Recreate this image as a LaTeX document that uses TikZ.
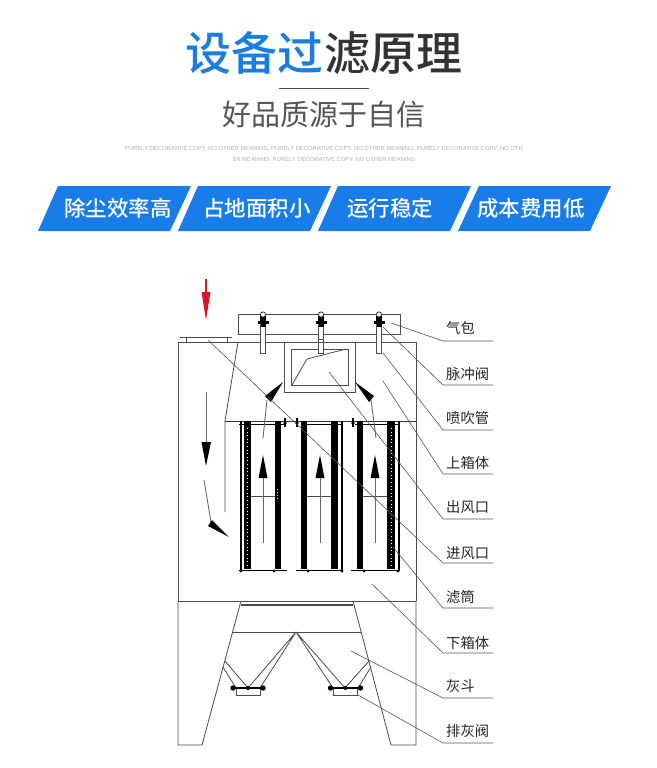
\documentclass[tikz,border=0pt]{standalone}
\usepackage{fontspec}
\setmainfont{Liberation Sans}
\newfontfamily\cjk{Noto Sans CJK SC}
\newfontfamily\cjkmed{Noto Sans CJK SC Medium}
\usetikzlibrary{arrows.meta,positioning,calc}
\definecolor{TitleBlue}{RGB}{25,125,225}
\definecolor{TitleDark}{RGB}{50,50,55}
\definecolor{SubGray}{RGB}{85,85,85}
\definecolor{BannerBlue}{RGB}{24,125,232}
\definecolor{InletRed}{RGB}{220,20,40}
\definecolor{LeaderGray}{RGB}{85,85,85}
\tikzset{
  titletext/.style={inner sep=0pt, font=\cjkmed\fontsize{46}{46}\selectfont},
  bannerbox/.style={fill=BannerBlue, draw=none},
  bannertext/.style={text=white, font=\cjkmed\fontsize{21.5}{22}\selectfont, inner sep=0pt},
  fillertext/.style={inner sep=0pt, font=\fontsize{5.85}{6}\selectfont, text=black!30},
  partlabel/.style={font=\cjk\fontsize{14.3}{15}\selectfont, text=black!85, inner sep=0pt, anchor=west},
  leader/.style={draw=LeaderGray, line width=0.6pt},
  housing/.style={draw=black!70, line width=0.8pt},
  flowarrow/.style={draw=black!60, line width=0.9pt},
  flowhead/.style={fill=black, draw=none}
}
\begin{document}
\begin{tikzpicture}[x=1pt,y=-1pt]
\useasboundingbox (0,0) rectangle (656,768);
\fill[white] (0,0) rectangle (656,768);

% heading
\node[titletext,anchor=east,text=TitleBlue] (titleblue) at (324,53) {设备过};
\node[titletext,anchor=west,text=TitleDark] (titledark) at (324,53) {滤原理};
\node[inner sep=0pt,font=\cjk\fontsize{29}{29}\selectfont,text=SubGray] (subtitle) at (324,114) {好品质源于自信};
\coordinate (ruleleft) at (279,88);
\coordinate (ruleright) at (369,88);
\draw[black!70,line width=0.8pt] (ruleleft) -- (ruleright);
\node[fillertext] (filler1) at (324,149) {PURELY DECORATIVE COPY, NO OTHER MEANING, PURELY DECORATIVE COPY, NO OTHER MEANING, PURELY DECORATIVE COPY, NO OTH};
\node[fillertext] (filler2) at (324,160) {ER MEANING, PURELY DECORATIVE COPY, NO OTHER MEANING};

% banner
\fill[bannerbox] (58,186) -- (191,186) -- (170,231) -- (38,231) -- cycle;
\fill[bannerbox] (198,186) -- (331,186) -- (310,231) -- (178,231) -- cycle;
\fill[bannerbox] (338,186) -- (471,186) -- (450,231) -- (318,231) -- cycle;
\fill[bannerbox] (479,186) -- (611,186) -- (590,231) -- (458,231) -- cycle;
\node[bannertext] (feat1) at (118,208) {除尘效率高};
\node[bannertext] (feat2) at (257,208) {占地面积小};
\node[bannertext] (feat3) at (390,208) {运行稳定};
\node[bannertext] (feat4) at (531,208) {成本费用低};

% housing
\draw[housing] (178,601) -- (178,342) -- (416,342) -- (416,601);
\draw[housing] (238,314) rectangle (400,334);
\draw[housing] (180,337) -- (232,337);
\draw[housing] (186,337) -- (186,342) (227,337) -- (227,342);
\draw[housing] (238,342) -- (225,421) -- (225,512);
\draw[black!80,line width=0.9pt] (225,421) -- (416,421);
\draw[housing] (284,342) -- (284,392) -- (355,392) -- (355,342);
\draw[housing] (291,349) rectangle (348,385);
\draw[housing] (292,385) -- (307,359) -- (346,349);

% valves
\foreach \vx in {263,321,379} {
  \draw[housing,fill=white] (\vx-2.2,324) rectangle (\vx+2.2,353);
  \fill[black] (\vx-5.5,320.5) rectangle (\vx+5.5,323.5);
  \fill[black] (\vx-3,316) rectangle (\vx+3,321);
  \fill[black] (\vx-2.5,324) rectangle (\vx+2.5,327);
  \draw[black!80,line width=0.8pt,fill=white] (\vx,314.5) circle (2.6);
}
\draw[housing,fill=white] (318.5,339) rectangle (323.5,342);

% cartridges
\fill[black] (244,421) rectangle (251,569);
\fill[black] (275,421) rectangle (281,569);
\fill[black] (301,421) rectangle (307,569);
\fill[black] (331,421) rectangle (338,569);
\fill[black] (357,421) rectangle (363,569);
\fill[black] (387,421) rectangle (395,569);
\draw[white,line width=1pt,dash pattern=on 1pt off 2.6pt] (247.5,428) -- (247.5,566);
\draw[white,line width=1pt,dash pattern=on 1pt off 2.6pt] (391,428) -- (391,566);
\draw[white,line width=0.8pt,dash pattern=on 1pt off 2pt] (277.5,489) -- (277.5,499);
\draw[black,line width=1.6pt] (241,421) -- (241,571);
\draw[black,line width=1.6pt] (342,421) -- (342,571);
\draw[black,line width=2pt] (398.5,421) -- (398.5,571);
\draw[black,line width=1pt] (239,424.5) -- (285,424.5) (307,424.5) -- (343,424.5) (355,424.5) -- (400,424.5);
\draw[black,line width=1pt] (239,570) -- (287,570) (296,570) -- (343,570) (351,570) -- (400,570);
\draw[black!70,line width=0.7pt] (251,496) -- (275,496) (307,496) -- (331,496) (363,496) -- (387,496);
\foreach \bx in {241,274,308,342,364,398} {
  \fill[black] (\bx,571) circle (1.7);
}
\foreach \bx in {285,297,353} {
  \draw[black,line width=1.4pt] (\bx,418) -- (\bx,427);
  \fill[black] (\bx,423) circle (1.8);
}

% flow arrows
\draw[InletRed,line width=1.2pt] (206,279) -- (206,294);
\fill[InletRed] (201.5,292) -- (210.5,292) -- (206,320) -- cycle;
\draw[flowarrow] (206,392) -- (206,445);
\fill[flowhead] (201.5,442) -- (211,442) -- (206,466) -- cycle;
\draw[flowarrow] (204,480) -- (211,522);
\fill[flowhead] (212,520) -- (208,526) -- (229,537) -- cycle;
\foreach \ax in {263,320,375} {
  \draw[flowarrow] (\ax,543) -- (\ax,475);
  \fill[flowhead] (\ax-4.5,478) -- (\ax+4.5,478) -- (\ax,455) -- cycle;
}
\draw[flowarrow] (267,400) -- (263,438);
\fill[flowhead] (265,396) -- (271,402) -- (283,382) -- cycle;
\draw[flowarrow] (371,400) -- (376,438);
\fill[flowhead] (355,382) -- (374,396) -- (369,402) -- cycle;

% hopper
\draw[housing] (178,601) -- (416,601);
\draw[housing] (178,601) -- (178,745) -- (202,745) -- (241,601);
\draw[housing] (416,601) -- (416,745) -- (391,745) -- (353,601);
\draw[black!70,line width=1.2pt] (241,605) -- (353,605);
\draw[black!70,line width=1pt] (233,632) -- (361,632);
\draw[housing] (296,632) -- (248,688) (296,632) -- (260,688);
\draw[housing] (296,632) -- (345,688) (296,632) -- (333,688);
\draw[housing] (225,661) -- (248,688) (223,667) -- (236,688);
\draw[housing] (369,661) -- (345,688) (371,667) -- (358,688);
\foreach \hx in {248,345.5} {
  \draw[housing] (\hx-12,688) -- (\hx-12,695) -- (\hx+12,695) -- (\hx+12,688);
  \draw[black,line width=2.6pt] (\hx-15,688) -- (\hx+15,688);
  \fill[black] (\hx-15,688) circle (2.7) (\hx+15,688) circle (2.7) (\hx,688) circle (2);
}

% part labels
\node[partlabel] (qibao) at (446,328) {气包};
\node[partlabel] (maichong) at (446,374) {脉冲阀};
\node[partlabel] (penchui) at (446,418) {喷吹管};
\node[partlabel] (shangxiang) at (446,463) {上箱体};
\node[partlabel] (chufeng) at (446,507) {出风口};
\node[partlabel] (jinfeng) at (446,553) {进风口};
\node[partlabel] (lvtong) at (446,597) {滤筒};
\node[partlabel] (xiaxiang) at (446,643) {下箱体};
\node[partlabel] (huidou) at (446,686) {灰斗};
\node[partlabel] (paihui) at (446,731) {排灰阀};

% leaders
\coordinate (tipqibao) at (391,323);
\coordinate (tipmaichong) at (383,327);
\coordinate (tippenchui) at (383,353);
\coordinate (tipshangxiang) at (383,381);
\coordinate (tipchufeng) at (329,372);
\coordinate (tipjinfeng) at (208,340);
\coordinate (tiplvtong) at (393,547);
\coordinate (tipxiaxiang) at (372,584);
\coordinate (tiphuidou) at (351,651);
\coordinate (tippaihui) at (358,695);
\foreach \part/\rulegap in {qibao/13,maichong/11,penchui/12,shangxiang/11,chufeng/12,jinfeng/10,lvtong/11,xiaxiang/10,huidou/12,paihui/12} {
  \draw[leader] (tip\part) -- ($(\part.west)+(-3,\rulegap)$) -- ($(\part.west)+(47,\rulegap)$);
}
\end{tikzpicture}
\end{document}
